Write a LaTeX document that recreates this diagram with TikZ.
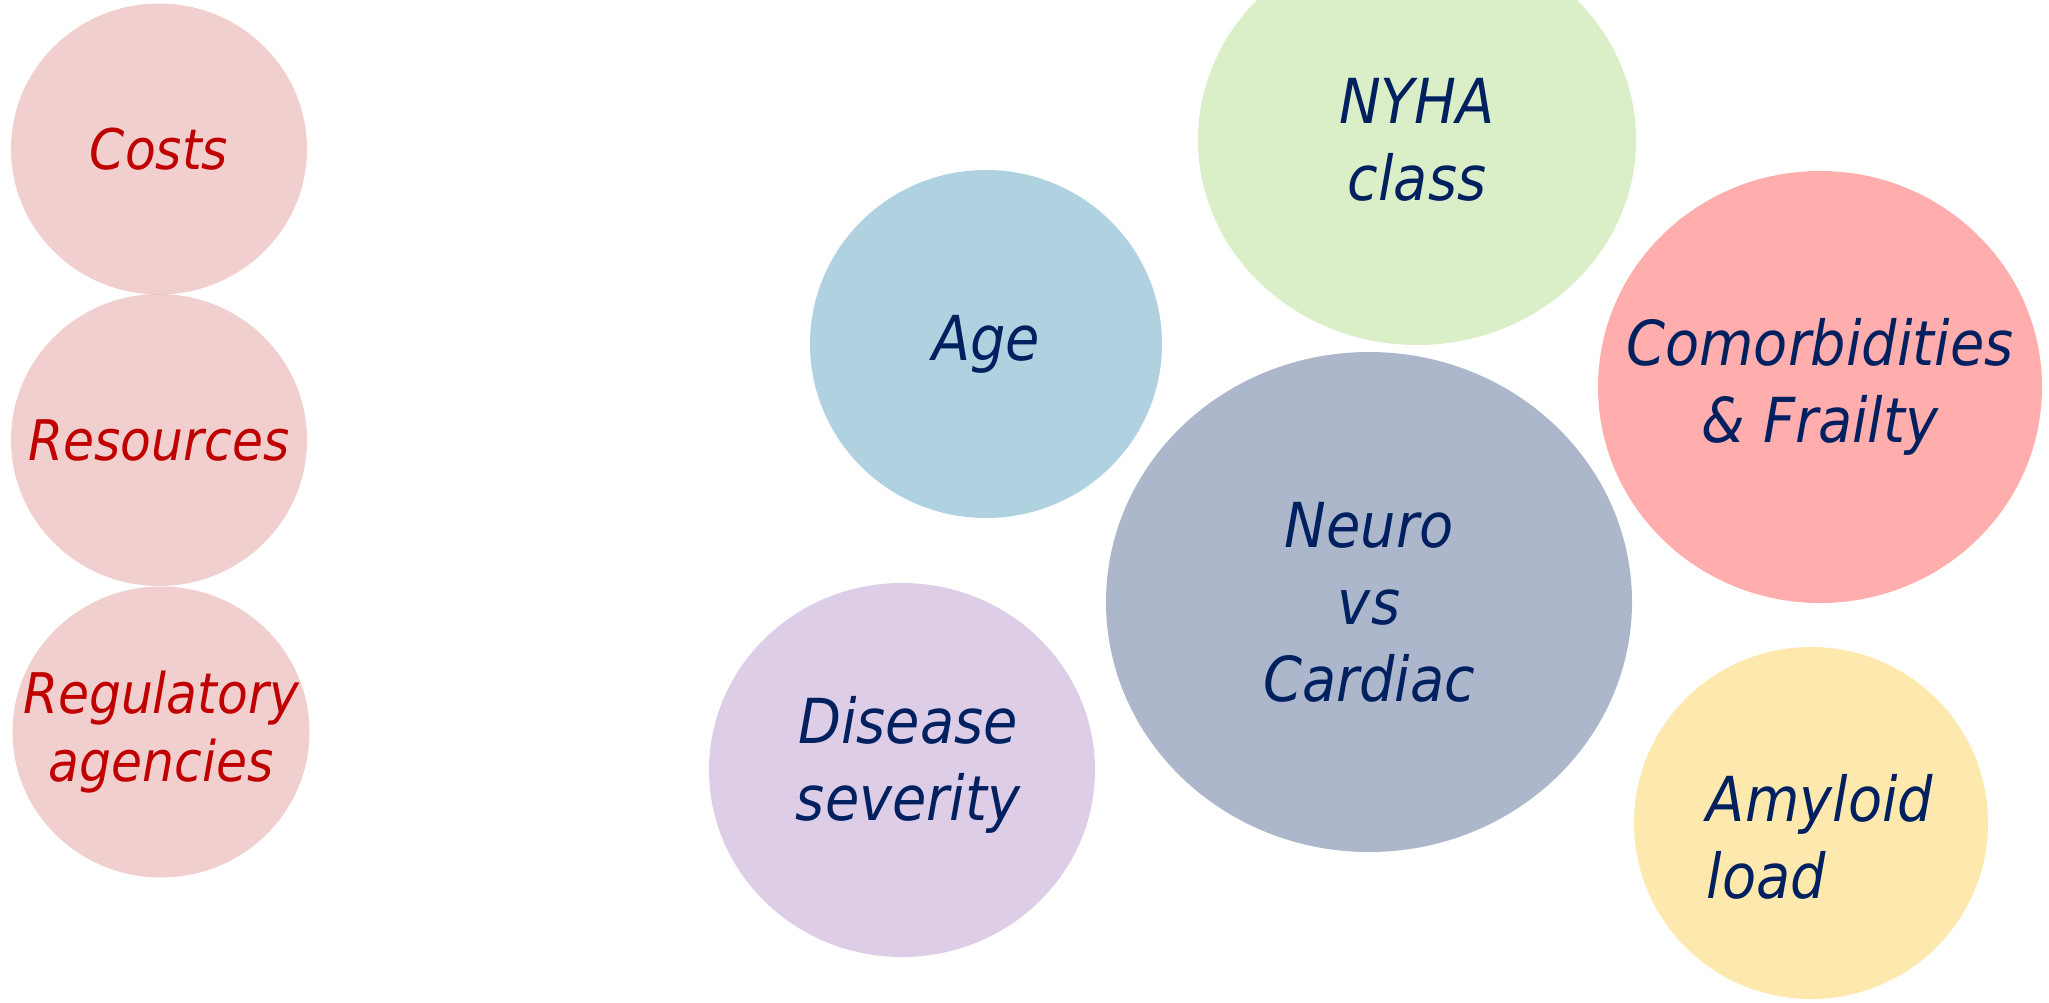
\documentclass[tikz,border=0pt]{standalone}
\usepackage{fontspec}
\newfontfamily\cfont[FakeStretch=0.9]{DejaVu Sans}
\usetikzlibrary{shapes.geometric}
\definecolor{txtred}{HTML}{C00000}
\definecolor{txtnavy}{HTML}{002060}
\definecolor{pinkfill}{HTML}{CF4D4D}
\definecolor{agefill}{HTML}{B0D2E0}
\definecolor{nyhafill}{HTML}{DAEEC7}
\definecolor{comfill}{HTML}{FFADAD}
\definecolor{neurofill}{HTML}{ADB7CB}
\definecolor{disfill}{HTML}{DDCDE7}
\definecolor{amyfill}{HTML}{FDE8AE}
\tikzset{
  blob/.style={ellipse, draw=none, inner sep=0pt, outer sep=0pt},
  leftblob/.style={blob, fill=pinkfill, fill opacity=0.27},
  lefttxt/.style={font=\cfont\itshape\fontsize{28}{34}\selectfont, text=txtred, align=center, inner sep=0pt},
  righttxt/.style={font=\cfont\itshape\fontsize{31}{38.5}\selectfont, text=txtnavy, align=center, inner sep=0pt},
}
\begin{document}
\begin{tikzpicture}[x=0.5pt, y=-0.5pt]
\useasboundingbox (0,0) rectangle (2049,1002);
% left column
\node[leftblob, minimum width=148pt, minimum height=145.5pt] (costs) at (159,149) {};
\node[leftblob, minimum width=148pt, minimum height=146pt] (resources) at (159,440) {};
\node[leftblob, minimum width=148.5pt, minimum height=145.5pt] (regulatory) at (161,732) {};
\node[lefttxt] (costsT) at (costs.center) {Costs};
\node[lefttxt] (resourcesT) at (resources.center) {Resources};
\node[lefttxt] (regulatoryT) at (regulatory.center) {Regulatory\\agencies};
% right cluster
\node[blob, fill=nyhafill, minimum width=219pt, minimum height=205pt] (nyha) at (1417,140) {};
\node[blob, fill=agefill, minimum width=176pt, minimum height=174pt] (age) at (986,344) {};
\node[blob, fill=comfill, minimum width=222pt, minimum height=216pt] (comorb) at (1820,387) {};
\node[blob, fill=neurofill, minimum width=263pt, minimum height=250pt] (neuro) at (1369,602) {};
\node[blob, fill=disfill, minimum width=193pt, minimum height=187pt] (disease) at (902,770) {};
\node[blob, fill=amyfill, minimum width=177pt, minimum height=176pt] (amyloid) at (1811,823) {};
\node[righttxt] (nyhaT) at (nyha.center) {NYHA\\class};
\node[righttxt] (ageT) at (age.center) {Age};
\node[righttxt] (comorbT) at (comorb.center) {Comorbidities\\\&~Frailty};
\node[righttxt] (neuroT) at (neuro.center) {Neuro\\vs\\Cardiac};
\node[righttxt] (diseaseT) at ([shift={(6,-5)}]disease.center) {Disease\\severity};
\node[righttxt, align=left] (amyloidT) at ([shift={(9,14)}]amyloid.center) {Amyloid\\load};
\end{tikzpicture}
\end{document}
